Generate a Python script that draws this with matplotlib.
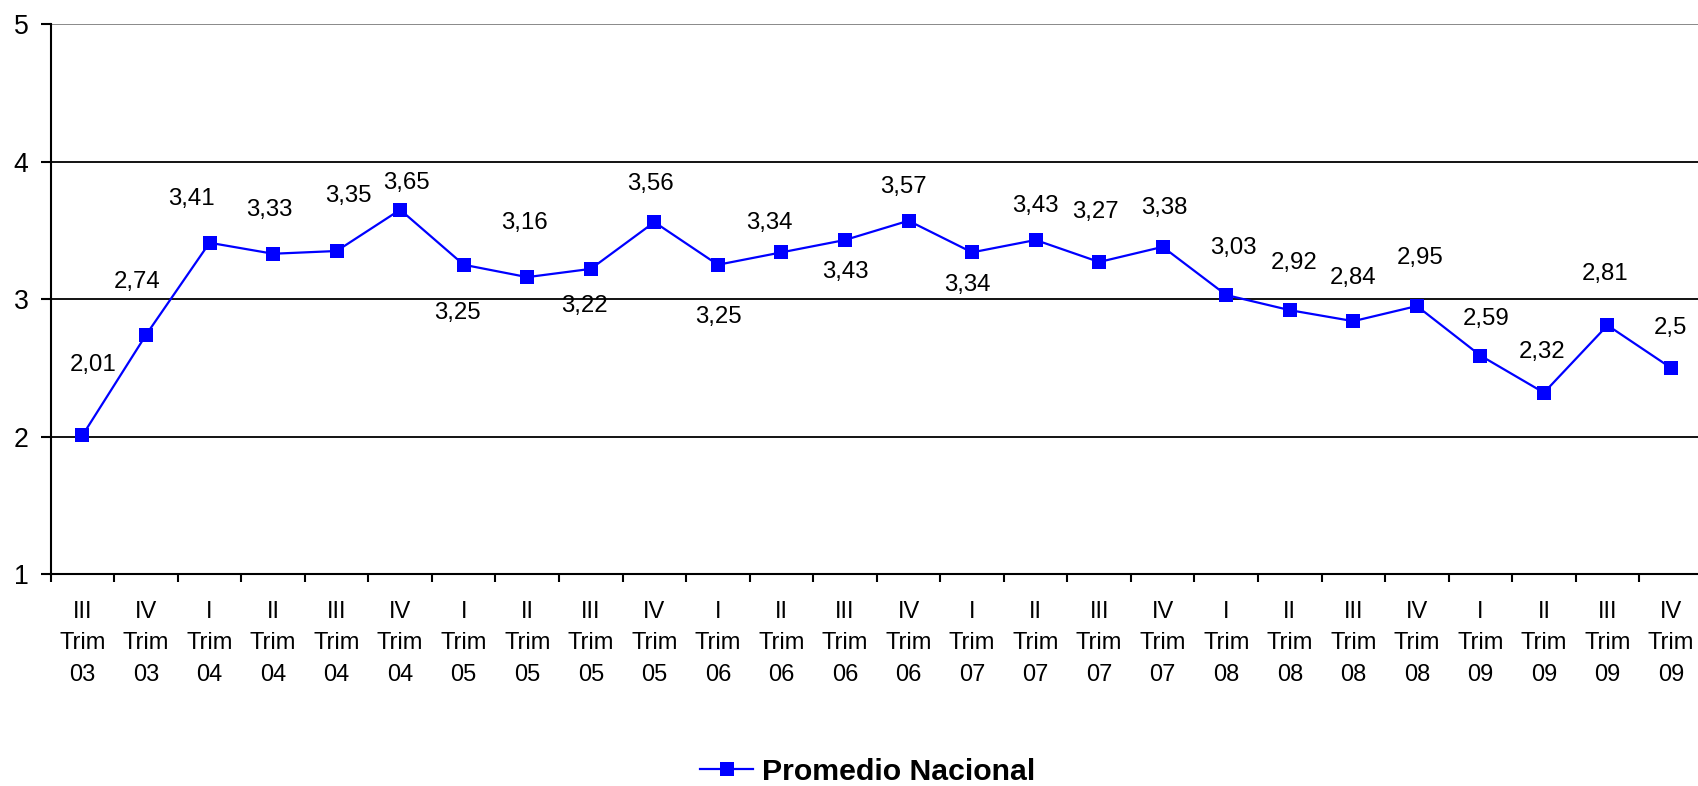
import matplotlib
matplotlib.use('Agg')
import matplotlib.pyplot as plt

plt.rcParams['font.family'] = ['Liberation Sans', 'DejaVu Sans']

# datos: promedio nacional por trimestre
trimestres = ['III', 'IV', 'I', 'II', 'III', 'IV', 'I', 'II', 'III', 'IV', 'I', 'II', 'III',
              'IV', 'I', 'II', 'III', 'IV', 'I', 'II', 'III', 'IV', 'I', 'II', 'III', 'IV']
anios = ['03', '03', '04', '04', '04', '04', '05', '05', '05', '05', '06', '06', '06',
         '06', '07', '07', '07', '07', '08', '08', '08', '08', '09', '09', '09', '09']
promedio = [2.01, 2.74, 3.41, 3.33, 3.35, 3.65, 3.25, 3.16, 3.22, 3.56, 3.25, 3.34, 3.43,
            3.57, 3.34, 3.43, 3.27, 3.38, 3.03, 2.92, 2.84, 2.95, 2.59, 2.32, 2.81, 2.5]
y_ticks = [1, 2, 3, 4, 5]

# desplazamiento de las etiquetas (pixeles)
offsets = [(11, 70), (-9, 53), (-18, 44), (-4, 44), (12, 55), (6, 27), (-6, -48), (-3, 54),
           (-6, -37), (-4, 38), (1, -52), (-12, 29), (0, -32), (-5, 34), (-5, -33), (0, 34),
           (-4, 50), (2, 39), (7, 47), (4, 47), (0, 43), (3, 48), (6, 37), (-2, 41),
           (-2, 51), (-1, 40)]

W, H = 1699, 786
fig = plt.figure(figsize=(W / 100, H / 100), dpi=100)
ax = fig.add_axes([50.7 / W, 1 - 574.3 / H, (1702.8 - 50.7) / W, (574.3 - 24) / H])

x = list(range(len(promedio)))
ax.plot(x, promedio, color='#0000FF', lw=1.6, marker='s', markersize=9.6,
        markeredgewidth=0, label='Promedio Nacional', clip_on=False, zorder=3)

for xi, v, (dx, dy) in zip(x, promedio, offsets):
    ax.annotate(str(v).replace('.', ','), (xi, v), xytext=(dx, dy),
                textcoords='offset pixels', ha='center', va='center', fontsize=17.3)

ax.set_xlim(-0.5, len(promedio) - 0.5)
ax.set_ylim(1, 5)
ax.set_yticks(y_ticks)
ax.set_yticklabels([str(t) for t in y_ticks], fontsize=19.2)
ax.set_xticks(x)
ax.set_xticklabels([t + '\nTrim\n' + a for t, a in zip(trimestres, anios)],
                   fontsize=17.0, linespacing=1.56)
ax.set_xticks([i - 0.5 for i in range(len(promedio) + 1)], minor=True)
ax.tick_params(axis='x', which='major', length=0, pad=19)
ax.tick_params(axis='x', which='minor', length=6, width=1.5, direction='out')
ax.tick_params(axis='y', length=7, width=1.5, pad=9)

ax.grid(axis='y', color='black', lw=1.3)
ax.get_ygridlines()[-1].set_color('#808080')
ax.set_axisbelow(True)

for s in ['top', 'right']:
    ax.spines[s].set_visible(False)
ax.spines['left'].set_linewidth(1.5)
ax.spines['bottom'].set_linewidth(1.5)

leg = fig.legend(loc='center', bbox_to_anchor=(868 / W, 1 - 771.7 / H), frameon=False,
                 prop={'weight': 'bold', 'size': 21.8}, handlelength=1.75, handletextpad=0.3)

fig.savefig('out.png', dpi=100)
